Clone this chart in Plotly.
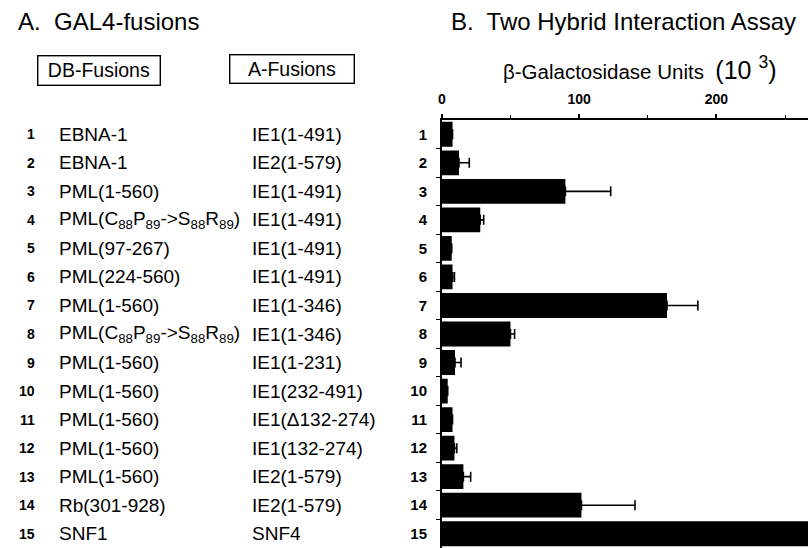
import plotly.graph_objects as go

W, H = 808, 548

rows = list(range(1, 16))
db_fusions = [
    "EBNA-1", "EBNA-1", "PML(1-560)",
    "PML(C<sub>88</sub>P<sub>89</sub>-&gt;S<sub>88</sub>R<sub>89</sub>)",
    "PML(97-267)", "PML(224-560)", "PML(1-560)",
    "PML(C<sub>88</sub>P<sub>89</sub>-&gt;S<sub>88</sub>R<sub>89</sub>)",
    "PML(1-560)", "PML(1-560)", "PML(1-560)", "PML(1-560)", "PML(1-560)",
    "Rb(301-928)", "SNF1",
]
a_fusions = [
    "IE1(1-491)", "IE2(1-579)", "IE1(1-491)", "IE1(1-491)", "IE1(1-491)",
    "IE1(1-491)", "IE1(1-346)", "IE1(1-346)", "IE1(1-231)", "IE1(232-491)",
    "IE1(Δ132-274)", "IE1(132-274)", "IE2(1-579)", "IE2(1-579)", "SNF4",
]
values = [7.8, 12.5, 90, 28, 7.2, 7.8, 164, 50, 9.6, 4.3, 7.8, 9.2, 15.7, 101.7, 290]
errors = [None, 7.5, 33, 2.5, None, 1.4, 22.5, 3, 4.4, None, None, 1.7, 5.3, 39, None]
x_ticks = [0, 100, 200]
x_minor_ticks = [50, 150, 250]

FONT = "Liberation Sans, Arial, Helvetica, sans-serif"

fig = go.Figure()
fig.add_trace(go.Bar(
    x=values, y=rows, orientation="h", width=0.87,
    marker=dict(color="black", line=dict(width=0)),
    error_x=dict(type="data", symmetric=False,
                 array=[e if e is not None else float("nan") for e in errors],
                 arrayminus=[0] * len(values),
                 color="black", thickness=1.6, width=5),
    showlegend=False, hoverinfo="skip",
))

x0 = 440 / W
top = 1 - 120 / H

fig.update_layout(
    width=W, height=H,
    margin=dict(l=0, r=0, t=0, b=0),
    paper_bgcolor="white", plot_bgcolor="white",
    font=dict(family=FONT, color="black"),
    xaxis=dict(
        domain=[x0, 1], range=[0, 266.7], side="top",
        showgrid=False, zeroline=False,
        showline=True, linecolor="black", linewidth=2,
        tickmode="array", tickvals=x_ticks, ticktext=[str(t) for t in x_ticks],
        ticks="outside", ticklen=4, tickwidth=1.5, tickcolor="black",
        tickfont=dict(size=14, weight="bold", family=FONT),
        ticklabelstandoff=4,
        minor=dict(tickmode="array", tickvals=x_minor_ticks, ticks="outside",
                   ticklen=3, tickwidth=1.2, tickcolor="black", showgrid=False),
    ),
    yaxis=dict(
        domain=[0, top], range=[15.5, 0.5],
        showgrid=False, zeroline=False,
        showline=True, linecolor="black", linewidth=1.6,
        tickmode="array", tickvals=rows, ticktext=[str(r) for r in rows],
        ticks="", tickfont=dict(size=15, weight="bold", family=FONT),
        ticklabelstandoff=10,
        minor=dict(tickmode="array", tickvals=[r + 0.5 for r in rows[:-1]],
                   ticks="outside", ticklen=4, tickwidth=1.2, tickcolor="black",
                   showgrid=False),
    ),
)

ann = []
# panel titles
ann.append(dict(text="A.  GAL4-fusions", x=12 / W, y=1 - 21 / H, xref="paper", yref="paper",
                xanchor="left", yanchor="middle", showarrow=False,
                font=dict(size=24, family=FONT)))
ann.append(dict(text="B.  Two Hybrid Interaction Assay", x=447 / W, y=1 - 21 / H,
                xref="paper", yref="paper", xanchor="left", yanchor="middle",
                showarrow=False, font=dict(size=24, family=FONT)))
ann.append(dict(text="β-Galactosidase Units  <span style='font-size:25px'>(10 <sup>3</sup>)</span>",
                x=499 / W, y=1 - 68 / H, xref="paper", yref="paper",
                xanchor="left", yanchor="middle", showarrow=False,
                font=dict(size=20.5, family=FONT)))
# boxed column headers
ann.append(dict(text="DB-Fusions", x=95 / W, y=1 - 70 / H, xref="paper", yref="paper",
                xanchor="center", yanchor="middle", showarrow=False,
                width=119, height=26, borderpad=1, bordercolor="black", borderwidth=1.4,
                font=dict(size=19.5, family=FONT)))
ann.append(dict(text="A-Fusions", x=289 / W, y=1 - 69 / H, xref="paper", yref="paper",
                xanchor="center", yanchor="middle", showarrow=False,
                width=121, height=25, borderpad=1, bordercolor="black", borderwidth=1.4,
                font=dict(size=19.5, family=FONT)))
# row table
for r, db, af in zip(rows, db_fusions, a_fusions):
    ann.append(dict(text=str(r), x=33 / W, y=r, xref="paper", yref="y",
                    xanchor="right", yanchor="middle", showarrow=False,
                    font=dict(size=14, weight="bold", family=FONT)))
    ann.append(dict(text=db, x=53 / W, y=r, xref="paper", yref="y",
                    xanchor="left", yanchor="middle", showarrow=False,
                    font=dict(size=19, family=FONT)))
    ann.append(dict(text=af, x=247 / W, y=r, xref="paper", yref="y",
                    xanchor="left", yanchor="middle", showarrow=False,
                    font=dict(size=19, family=FONT)))
fig.update_layout(annotations=ann)

fig.write_html("out.html", config={"displayModeBar": False},
               post_script="document.body.style.margin='0px';")
